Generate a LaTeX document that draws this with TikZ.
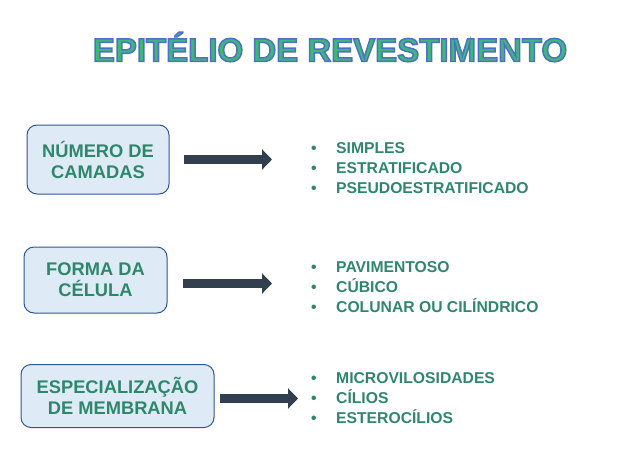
\documentclass[tikz,border=0pt]{standalone}
\usepackage{fontspec}
\setmainfont{Liberation Sans}
\usetikzlibrary{arrows.meta,positioning}
\definecolor{txtgreen}{RGB}{47,135,107}
\definecolor{titlegreen}{RGB}{60,184,120}
\definecolor{boxfill}{RGB}{222,235,247}
\definecolor{boxblue}{RGB}{47,85,151}
\definecolor{arrowdark}{RGB}{50,63,79}
% fill in green, outline in blue
\newcommand{\outlinetext}[1]{{\color{titlegreen}%
  \special{pdf:literal direct 2 Tr 1.5 w 0.314 0.439 0.784 RG}#1%
  \special{pdf:literal direct 0 Tr 0.4 w}}}
\newcommand{\itembul}{\makebox[25pt][l]{\textbullet}}

\begin{document}
\begin{tikzpicture}[x=1pt, y=-1pt,
  topic/.style={draw=boxblue, line width=1pt, rounded corners=10pt, fill=boxfill,
                align=center, inner sep=0pt, text=txtgreen,
                font=\fontsize{18.3}{21}\selectfont\bfseries},
  items/.style={align=left, inner sep=0pt, anchor=west, text=txtgreen,
                font=\fontsize{15.7}{20}\selectfont\bfseries},
  blockarr/.style={-{Triangle[length=10pt,width=20pt]}, line width=8.5pt, draw=arrowdark}
]
  \useasboundingbox (0,0) rectangle (625,461);

  % Title
  \node (titulo) at (330,47)
    {\fontsize{33}{36}\selectfont\bfseries\outlinetext{EPITÉLIO DE REVESTIMENTO}};

  % Topics
  \node[topic, minimum width=142pt, minimum height=69pt] (camadas) at (98,159.5) {NÚMERO DE\\CAMADAS};
  \node[topic, minimum width=143pt, minimum height=66pt] (forma) at (95.5,280) {FORMA DA\\CÉLULA};
  \node[topic, minimum width=193pt, minimum height=63pt] (membrana) at (117.5,396) {ESPECIALIZAÇÃO\\DE MEMBRANA};

  % Lists
  \node[items] (listcamadas) at (311,168)
    {\itembul SIMPLES\\ \itembul ESTRATIFICADO\\ \itembul PSEUDOESTRATIFICADO};
  \node[items] (listforma) at (311,287)
    {\itembul PAVIMENTOSO\\ \itembul CÚBICO\\ \itembul COLUNAR OU CILÍNDRICO};
  \node[items] (listmembrana) at (311,398)
    {\itembul MICROVILOSIDADES\\ \itembul CÍLIOS\\ \itembul ESTEROCÍLIOS};

  % Arrows
  \draw[blockarr, shorten <=14pt, shorten >=39pt] (camadas.east) -- (camadas.east -| listcamadas.west);
  \draw[blockarr, shorten <=15pt, shorten >=39pt] ([yshift=-3.5pt]forma.east) -- ([yshift=-3.5pt]forma.east -| listforma.west);
  \draw[blockarr, shorten <=5pt, shorten >=13pt] ([yshift=-2.5pt]membrana.east) -- ([yshift=-2.5pt]membrana.east -| listmembrana.west);
\end{tikzpicture}
\end{document}
